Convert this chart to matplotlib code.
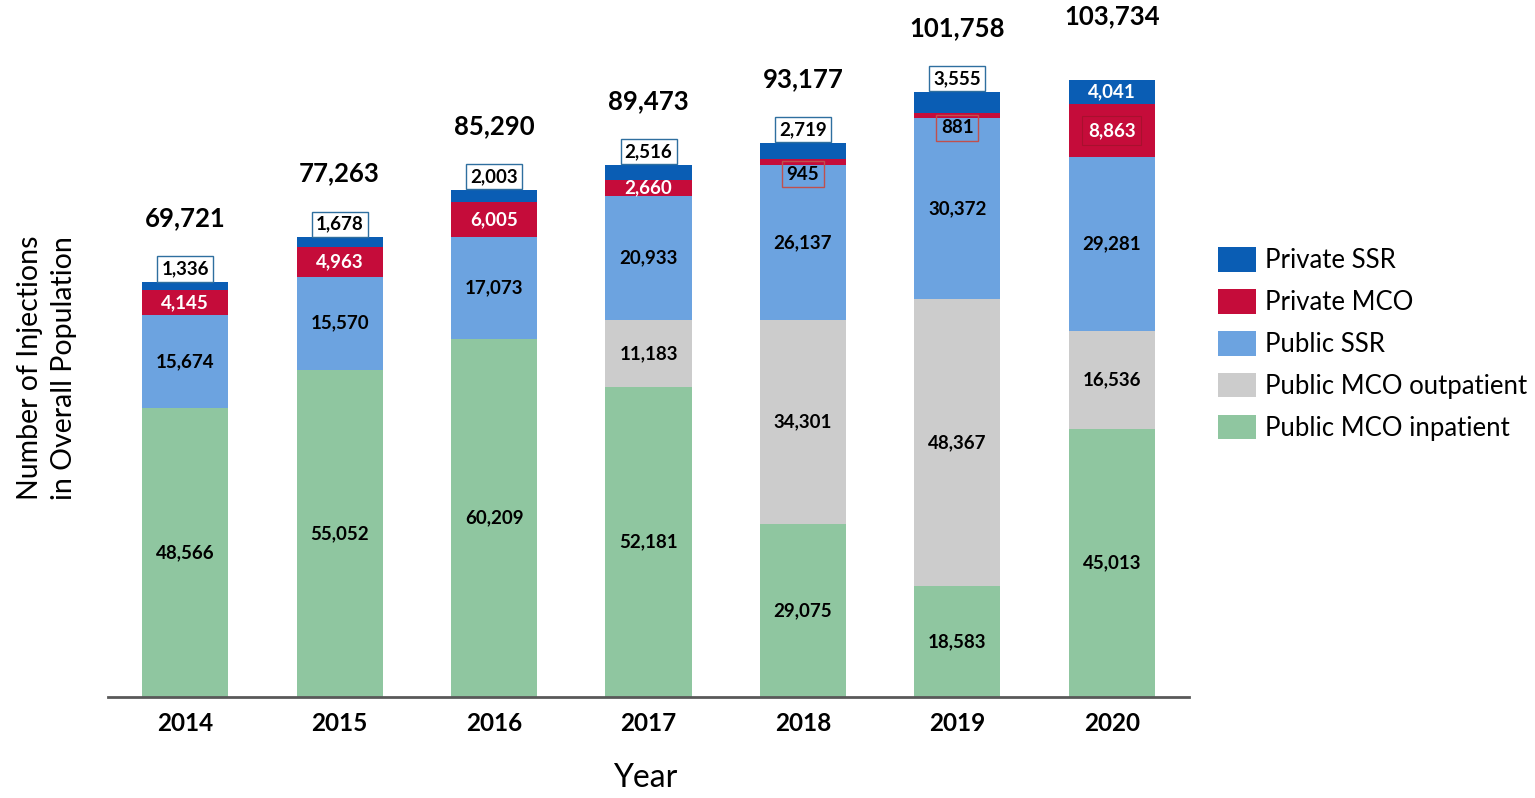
import matplotlib.pyplot as plt
import numpy as np

plt.rcParams['font.family'] = ['Lato', 'DejaVu Sans']

years = ['2014', '2015', '2016', '2017', '2018', '2019', '2020']
public_mco_inpatient = [48566, 55052, 60209, 52181, 29075, 18583, 45013]
public_mco_outpatient = [0, 0, 0, 11183, 34301, 48367, 16536]
public_ssr = [15674, 15570, 17073, 20933, 26137, 30372, 29281]
private_mco = [4145, 4963, 6005, 2660, 945, 881, 8863]
private_ssr = [1336, 1678, 2003, 2516, 2719, 3555, 4041]

series = [
    ('Public MCO inpatient', public_mco_inpatient, '#8fc6a0'),
    ('Public MCO outpatient', public_mco_outpatient, '#cccccc'),
    ('Public SSR', public_ssr, '#6ca3e0'),
    ('Private MCO', private_mco, '#c50c3a'),
    ('Private SSR', private_ssr, '#0a5db4'),
]

W, H = 1535, 798
fig = plt.figure(figsize=(W / 100, H / 100), dpi=100)
ax = fig.add_axes([108 / W, 1 - 697 / H, (1189 - 108) / W, (697 - 10) / H])

x = np.arange(len(years))
bottom = np.zeros(len(years))
bars = {}
for name, vals, color in series:
    vals = np.array(vals, dtype=float)
    bars[name] = ax.bar(x, vals, 0.557, bottom=bottom, color=color, label=name, zorder=2)
    bottom = bottom + vals
totals = bottom

ax.set_xlim(-0.5, 6.5)
ax.set_ylim(0, 115500)
ax.set_yticks([])
for s in ['top', 'right', 'left']:
    ax.spines[s].set_visible(False)
ax.spines['bottom'].set_color('#595959')
ax.spines['bottom'].set_linewidth(2)
ax.set_xticks(x)
ax.set_xticklabels(years, fontsize=17.5, fontweight='bold')
ax.tick_params(axis='x', length=0, pad=11)

lab_kw = dict(ha='center', va='center', fontsize=13.5, fontweight='bold')

# labels inside the three lower segments
for name in ['Public MCO inpatient', 'Public MCO outpatient', 'Public SSR']:
    vals = dict((n, v) for n, v, c in series)[name]
    for i, b in enumerate(bars[name]):
        if vals[i] == 0:
            continue
        ax.text(b.get_x() + b.get_width() / 2, b.get_y() + b.get_height() / 2,
                f'{vals[i]:,}', color='black', **lab_kw)

# private MCO labels
for i, b in enumerate(bars['Private MCO']):
    v = private_mco[i]
    cx = b.get_x() + b.get_width() / 2
    if v < 1000:
        ax.annotate(f'{v:,}', (cx, b.get_y()), xytext=(0, -7), textcoords='offset points',
                    color='black',
                    bbox=dict(boxstyle='square,pad=0.25', fc='none', ec='#c0504d', lw=1),
                    **lab_kw)
    elif years[i] == '2020':
        ax.text(cx, b.get_y() + b.get_height() / 2, f'{v:,}', color='white',
                bbox=dict(boxstyle='square,pad=0.3', fc='none', ec='#a8102e', lw=0.8),
                **lab_kw)
    else:
        ax.text(cx, b.get_y() + b.get_height() / 2, f'{v:,}', color='white', **lab_kw)

# private SSR labels
for i, b in enumerate(bars['Private SSR']):
    v = private_ssr[i]
    cx = b.get_x() + b.get_width() / 2
    if years[i] == '2020':
        ax.text(cx, b.get_y() + b.get_height() / 2, f'{v:,}', color='white', **lab_kw)
    else:
        ax.annotate(f'{v:,}', (cx, b.get_y() + b.get_height()), xytext=(0, 9.5),
                    textcoords='offset points', color='black',
                    bbox=dict(boxstyle='square,pad=0.22', fc='white', ec='#2f6f9f', lw=1),
                    **lab_kw)

# totals
for i, t in enumerate(totals):
    ax.annotate(f'{int(t):,}', (x[i], t), xytext=(0, 46), textcoords='offset points',
                ha='center', va='center', fontsize=18.5, fontweight='bold')

handles = [bars[n] for n, v, c in series][::-1]
labels = [n for n, v, c in series][::-1]
fig.legend(handles, labels, loc='center left', bbox_to_anchor=(1218 / W, 1 - 344 / H),
           frameon=False, fontsize=18.5, handlelength=1.48, handleheight=1.09,
           labelspacing=0.62, handletextpad=0.35, borderpad=0, borderaxespad=0)

fig.text(645 / W, 1 - 778 / H, 'Year', ha='center', va='center', fontsize=23)
fig.text(47 / W, 1 - 368 / H, 'Number of Injections\nin Overall Population', ha='center',
         va='center', rotation=90, fontsize=20.5, linespacing=1.4)

fig.savefig('out.png', dpi=100)
